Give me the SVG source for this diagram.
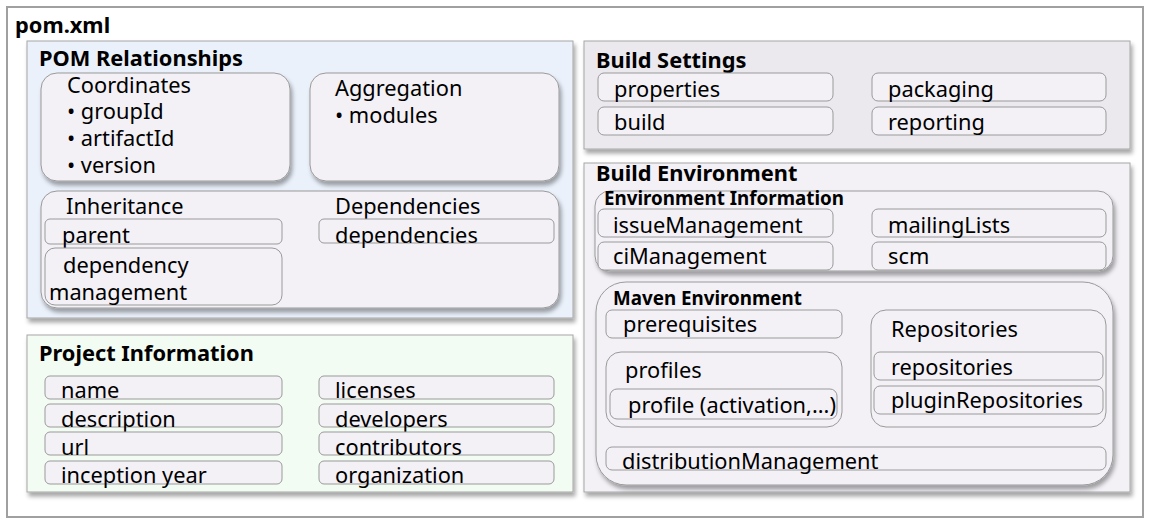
<svg xmlns="http://www.w3.org/2000/svg" width="1149" height="524" viewBox="0 0 1149 524">
<defs>
<filter id="sh" x="-5%" y="-5%" width="112%" height="120%">
<feDropShadow dx="2" dy="4" stdDeviation="2" flood-color="#000" flood-opacity="0.35"/>
</filter>
</defs>
<style>
text{font-family:"Noto Sans","Liberation Sans",sans-serif;fill:#000}
.t{font-size:21.8px}
.h{font-size:21.8px;font-weight:bold}
.s{font-size:18.8px;font-weight:bold}
.panel{stroke:#a6a6a6;stroke-width:1}
.grp{fill:#f3f1f6;stroke:#999;stroke-width:1}
.item{fill:#f3f1f6;stroke:#999;stroke-width:1}
</style>
<rect x="0" y="0" width="1149" height="524" fill="#fff"/>
<g id="pom">
<rect x="7" y="7" width="1136" height="510" fill="#fff" stroke="#a0a0a0" stroke-width="2"/>
<text x="15" y="33" class="h">pom.xml</text>
</g>
<g id="pom-relationships">
<rect class="panel" x="27" y="41" width="546" height="277" fill="#eaf1fb" filter="url(#sh)"/>
<text x="39" y="66" class="h">POM Relationships</text>
</g>
<g id="coordinates">
<rect class="grp" x="41" y="73" width="249" height="108" rx="16" filter="url(#sh)"/>
<text x="67" y="93" class="t">Coordinates</text>
<text x="67" y="119" class="t">• groupId</text>
<text x="67" y="146" class="t">• artifactId</text>
<text x="67" y="173" class="t">• version</text>
</g>
<g id="aggregation">
<rect class="grp" x="310" y="73" width="249" height="108" rx="16" filter="url(#sh)"/>
<text x="335" y="96" class="t">Aggregation</text>
<text x="335" y="123" class="t">• modules</text>
</g>
<g id="inheritance-dependencies">
<rect class="grp" x="41" y="191" width="518" height="117" rx="16" filter="url(#sh)"/>
<text x="66" y="214" class="t">Inheritance</text>
<text x="335" y="214" class="t">Dependencies</text>
</g>
<g id="parent">
<rect class="item" x="45" y="219" width="237" height="25" rx="5"/>
<text x="62" y="243" class="t">parent</text>
</g>
<g id="dependency-management">
<rect class="item" x="45" y="248" width="237" height="57" rx="10"/>
<text x="63" y="273" class="t">dependency</text>
<text x="49" y="300" class="t">management</text>
</g>
<g id="dependencies">
<rect class="item" x="319" y="219" width="235" height="24" rx="5"/>
<text x="335" y="243" class="t">dependencies</text>
</g>
<g id="project-information">
<rect class="panel" x="27" y="335" width="546" height="157" fill="#f3fcf3" filter="url(#sh)"/>
<text x="39" y="361" class="h">Project Information</text>
</g>
<g id="name"><rect class="item" x="45" y="376" width="237" height="23" rx="5"/><text x="61" y="398" class="t">name</text></g>
<g id="description"><rect class="item" x="45" y="404" width="237" height="23" rx="5"/><text x="61" y="427" class="t">description</text></g>
<g id="url"><rect class="item" x="45" y="432" width="237" height="23" rx="5"/><text x="61" y="455" class="t">url</text></g>
<g id="inception-year"><rect class="item" x="45" y="461" width="237" height="23" rx="5"/><text x="61" y="483" class="t">inception year</text></g>
<g id="licenses"><rect class="item" x="319" y="376" width="235" height="23" rx="5"/><text x="335" y="398" class="t">licenses</text></g>
<g id="developers"><rect class="item" x="319" y="404" width="235" height="23" rx="5"/><text x="335" y="427" class="t">developers</text></g>
<g id="contributors"><rect class="item" x="319" y="432" width="235" height="23" rx="5"/><text x="335" y="455" class="t">contributors</text></g>
<g id="organization"><rect class="item" x="319" y="461" width="235" height="23" rx="5"/><text x="335" y="483" class="t">organization</text></g>
<g id="build-settings">
<rect class="panel" x="584" y="41" width="546" height="108" fill="#ebe9ee" filter="url(#sh)"/>
<text x="596" y="68" class="h">Build Settings</text>
</g>
<g id="properties"><rect class="item" x="598" y="73" width="235" height="28" rx="6"/><text x="614" y="97" class="t">properties</text></g>
<g id="packaging"><rect class="item" x="872" y="73" width="234" height="28" rx="6"/><text x="888" y="97" class="t">packaging</text></g>
<g id="build"><rect class="item" x="598" y="107" width="235" height="28" rx="6"/><text x="614" y="130" class="t">build</text></g>
<g id="reporting"><rect class="item" x="872" y="107" width="234" height="28" rx="6"/><text x="888" y="130" class="t">reporting</text></g>
<g id="build-environment">
<rect class="panel" x="584" y="163" width="546" height="329" fill="#f3f1f6" filter="url(#sh)"/>
<text x="596" y="181" class="h">Build Environment</text>
</g>
<g id="environment-information">
<rect class="grp" x="595" y="191" width="518" height="80" rx="15" filter="url(#sh)"/>
<text x="604" y="205" class="s">Environment Information</text>
</g>
<g id="issueManagement"><rect class="item" x="598" y="209" width="235" height="28" rx="6"/><text x="613" y="233" class="t">issueManagement</text></g>
<g id="mailingLists"><rect class="item" x="872" y="209" width="234" height="28" rx="6"/><text x="888" y="233" class="t">mailingLists</text></g>
<g id="ciManagement"><rect class="item" x="598" y="242" width="235" height="28" rx="6"/><text x="613" y="264" class="t">ciManagement</text></g>
<g id="scm"><rect class="item" x="872" y="242" width="234" height="28" rx="6"/><text x="888" y="264" class="t">scm</text></g>
<g id="maven-environment">
<rect class="grp" x="596" y="282" width="517" height="203" rx="30" filter="url(#sh)"/>
<text x="613" y="305" class="s">Maven Environment</text>
</g>
<g id="prerequisites"><rect class="item" x="606" y="310" width="236" height="28" rx="6"/><text x="623" y="332" class="t">prerequisites</text></g>
<g id="profiles">
<rect class="grp" x="606" y="352" width="236" height="75" rx="15"/>
<text x="625" y="378" class="t">profiles</text>
</g>
<g id="profile"><rect class="item" x="610" y="389" width="227" height="30" rx="7"/><text x="628" y="413" class="t">profile (activation,...)</text></g>
<g id="repositories-group">
<rect class="grp" x="871" y="310" width="235" height="117" rx="15"/>
<text x="891" y="337" class="t">Repositories</text>
</g>
<g id="repositories"><rect class="item" x="874" y="352" width="229" height="28" rx="6"/><text x="891" y="375" class="t">repositories</text></g>
<g id="pluginRepositories"><rect class="item" x="874" y="386" width="229" height="28" rx="6"/><text x="891" y="408" class="t">pluginRepositories</text></g>
<g id="distributionManagement"><rect class="item" x="606" y="447" width="500" height="23" rx="6"/><text x="622" y="469" class="t">distributionManagement</text></g>
<g id="connectors"></g>
</svg>
